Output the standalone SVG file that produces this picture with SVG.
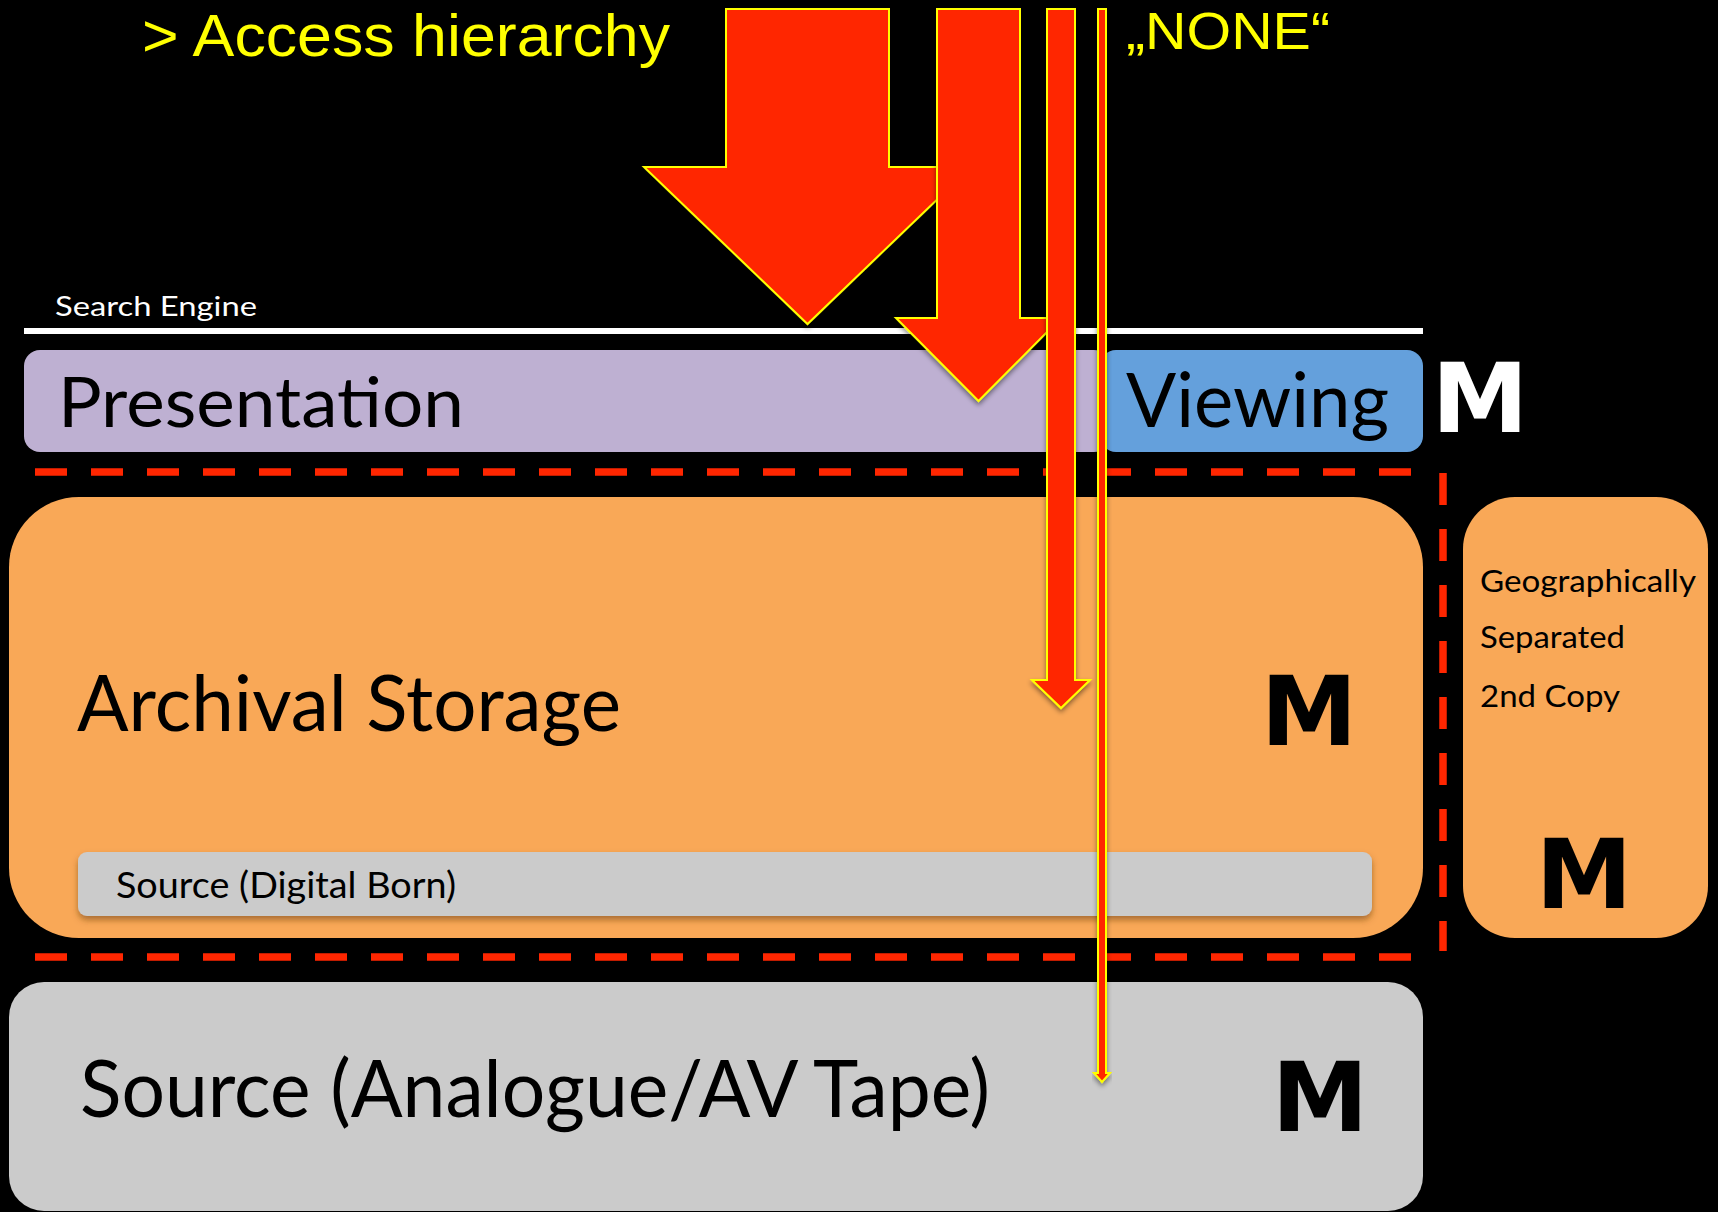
<svg xmlns="http://www.w3.org/2000/svg" width="1718" height="1212" viewBox="0 0 1718 1212">
  <defs>
    <filter id="shadow" x="-10%" y="-10%" width="120%" height="130%">
      <feDropShadow dx="0" dy="3" stdDeviation="2.5" flood-color="#000" flood-opacity="0.45"/>
    </filter>
    <filter id="boxshadow" x="-5%" y="-20%" width="110%" height="160%">
      <feDropShadow dx="0" dy="4" stdDeviation="3" flood-color="#6b3f10" flood-opacity="0.55"/>
    </filter>
  </defs>
  <style>
    .t { font-family: Lato, "Liberation Sans", sans-serif; fill: #000; }
    .h { font-family: "Liberation Sans", Arial, sans-serif; }
    .y { fill: #FFFF00; }
    .w { fill: #FFFFFF; }
    .m { font-family: "DejaVu Sans", "Liberation Sans", sans-serif; font-weight: bold; font-size: 97px; text-anchor: middle; }
    .dash { stroke: #FF2600; stroke-width: 7.5; stroke-dasharray: 32 24; fill: none; }
    .arrow { fill: #FF2600; stroke: #FFFF00; stroke-width: 2; stroke-linejoin: miter; filter: url(#shadow); }
  </style>
  <rect x="0" y="0" width="1718" height="1212" fill="#000"/>

  <g id="title">
    <text class="h y" x="142" y="56" font-size="60" textLength="528" lengthAdjust="spacingAndGlyphs">&gt; Access hierarchy</text>
  </g>
  <g id="none-label">
    <text class="h y" x="1126" y="49" font-size="52" textLength="204" lengthAdjust="spacingAndGlyphs">„NONE“</text>
  </g>

  <g id="search-engine">
    <text class="t w" x="55" y="316" font-size="27" textLength="202" lengthAdjust="spacingAndGlyphs">Search Engine</text>
    <rect x="24" y="328" width="1399" height="6" fill="#FFFFFF"/>
  </g>

  <g id="presentation">
    <rect x="24" y="350" width="1086" height="102" rx="16" fill="#BEB0D2"/>
    <text class="t" x="58" y="427" font-size="70" textLength="406" lengthAdjust="spacingAndGlyphs">Presentation</text>
  </g>

  <g id="viewing">
    <rect x="1100" y="350" width="323" height="102" rx="16" fill="#64A0DC"/>
    <text class="t" x="1126" y="427" font-size="76" textLength="263" lengthAdjust="spacingAndGlyphs">Viewing</text>
    <text class="m w" x="1480" y="432">M</text>
  </g>

  <g id="archival-storage">
    <rect x="9" y="497" width="1414" height="441" rx="70" fill="#F9A857"/>
    <text class="t" x="77" y="731" font-size="78" textLength="544" lengthAdjust="spacingAndGlyphs">Archival Storage</text>
    <text class="m" x="1309" y="745">M</text>
  </g>

  <g id="source-digital">
    <rect x="78" y="852" width="1294" height="64" rx="9" fill="#CBCBCB" filter="url(#boxshadow)"/>
    <text class="t" x="116" y="898" font-size="37" textLength="340" lengthAdjust="spacingAndGlyphs">Source (Digital Born)</text>
  </g>

  <g id="second-copy">
    <rect x="1463" y="497" width="245" height="441" rx="52" fill="#F9A857"/>
    <text class="t" x="1480" y="592" font-size="31" textLength="216" lengthAdjust="spacingAndGlyphs">Geographically</text>
    <text class="t" x="1480" y="648" font-size="31" textLength="145" lengthAdjust="spacingAndGlyphs">Separated</text>
    <text class="t" x="1480" y="707" font-size="31" textLength="140" lengthAdjust="spacingAndGlyphs">2nd Copy</text>
    <text class="m" x="1584" y="908">M</text>
  </g>

  <g id="source-analogue">
    <rect x="9" y="982" width="1414" height="229" rx="35" fill="#CBCBCB"/>
    <text class="t" x="80" y="1117" font-size="80" textLength="910" lengthAdjust="spacingAndGlyphs">Source (Analogue/AV Tape)</text>
    <text class="m" x="1320" y="1131">M</text>
  </g>

  <g id="separators">
    <line class="dash" x1="35" y1="472" x2="1411" y2="472"/>
    <line class="dash" x1="35" y1="957" x2="1411" y2="957"/>
    <line class="dash" x1="1443" y1="473" x2="1443" y2="951"/>
  </g>

  <g id="connectors">
    <path class="arrow" d="M726,9 H889 V167 H971 L807.5,324 L644,167 H726 Z"/>
    <path class="arrow" d="M937,9 H1020 V318 H1061 L978.5,401 L896,318 H937 Z"/>
    <path class="arrow" d="M1047,9 H1075 V680 H1090 L1061,708 L1032,680 H1047 Z"/>
    <path class="arrow" d="M1098,9 H1106 V1073 H1110 L1102,1082 L1094,1073 H1098 Z"/>
  </g>
</svg>
